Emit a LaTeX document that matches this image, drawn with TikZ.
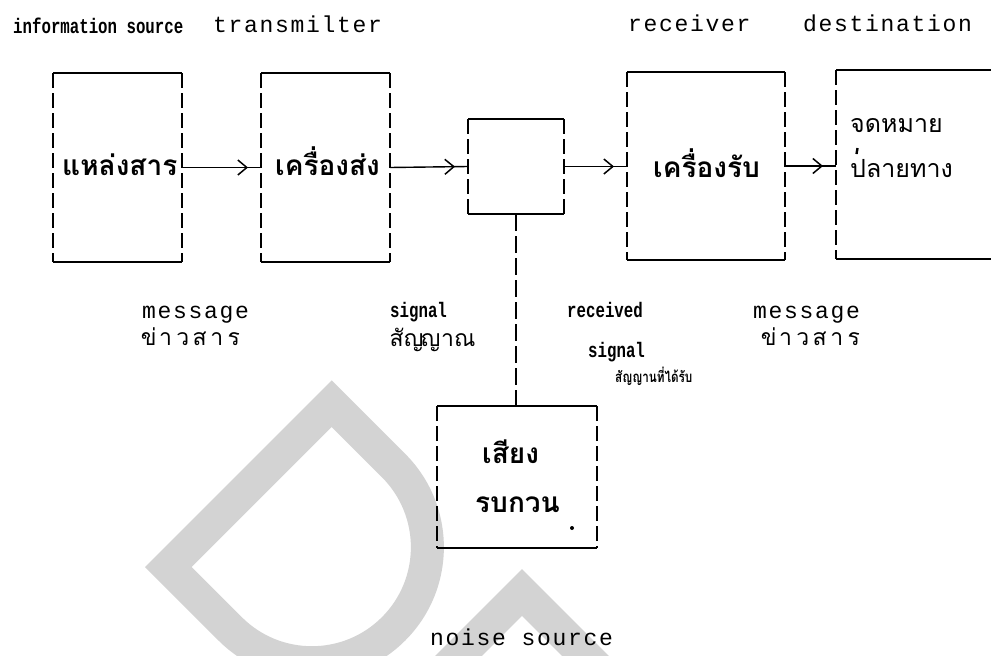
\documentclass[tikz,border=0pt]{standalone}
\usepackage{fontspec}
\usetikzlibrary{arrows.meta,decorations.markings,calc}
\newfontfamily\monof[LetterSpace=7.4]{Liberation Mono}
\newfontfamily\condf[FakeStretch=0.75]{Liberation Mono}
\newfontfamily\thaif[Script=Thai]{Loma}
\newfontfamily\thaicond[Script=Thai,FakeStretch=0.78]{Loma}
\definecolor{wm}{RGB}{211,211,211}
\newcommand\hybox[1]{%
  \draw[edgeline] (#1.north west) -- (#1.north east);
  \draw[edgeline] (#1.south west) -- (#1.south east);
  \draw[dashedge] (#1.north west) -- (#1.south west);
  \draw[dashedge] (#1.north east) -- (#1.south east);}
\newcommand\tcell[1]{\makebox[17pt]{#1}}
\begin{document}
\begin{tikzpicture}[x=1pt,y=1pt,
  edgeline/.style={line width=1.4pt},
  dashedge/.style={line width=1.4pt,dash pattern=on 15pt off 5pt},
  boxn/.style={inner sep=0pt,outer sep=0pt},
  conn/.style={line width=1.4pt,postaction={decorate},
    decoration={markings,mark=at position -13pt with {\arrow{Straight Barb[length=9pt,width=15pt,line width=1.5pt]}}}},
  vconn/.style={line width=1.4pt,dash pattern=on 17pt off 5pt},
  monotxt/.style={anchor=base west,inner sep=0pt,font=\fontsize{23}{26}\monof},
  condtxt/.style={anchor=base west,inner sep=0pt,font=\fontsize{21}{24}\condf\bfseries},
  thbox/.style={anchor=base west,inner sep=0pt,font=\fontsize{28}{30}\thaif\bfseries},
  thdest/.style={anchor=base west,inner sep=0pt,font=\fontsize{25}{27}\thaif},
  thlab/.style={anchor=base west,inner sep=0pt,font=\fontsize{23}{25}\thaif},
  thtiny/.style={anchor=base west,inner sep=0pt,font=\fontsize{15}{16}\thaicond\bfseries}
]
\useasboundingbox (0,0) rectangle (991,-656);
\clip (0,0) rectangle (991,-656);
% watermark
\begin{scope}[shift={(145,-567)},rotate=-45]
\fill[wm,even odd rule] (0,0) -- (104,0) arc[start angle=-90,end angle=90,radius=132pt] -- (0,264) -- cycle
  (33,33) -- (104,33) arc[start angle=-90,end angle=90,radius=99pt] -- (33,231) -- cycle;
\end{scope}
\draw[wm,line width=33pt,line join=miter] (402,-712.5) -- (522,-592.5) -- (642,-712.5);
% boxes
\node[boxn,minimum width=129pt,minimum height=189pt] (b1) at (117.5,-167.5) {};
\node[boxn,minimum width=129pt,minimum height=189pt] (b2) at (325.5,-167.5) {};
\node[boxn,minimum width=96pt,minimum height=95pt] (ch) at (516,-166.5) {};
\node[boxn,minimum width=158pt,minimum height=188pt] (b4) at (706,-166) {};
\node[boxn,minimum width=174pt,minimum height=189pt] (b5) at (923,-164.5) {};
\node[boxn,minimum width=160pt,minimum height=142pt] (ns) at (517,-477) {};
\hybox{b1}\hybox{b2}\hybox{ch}\hybox{b4}\hybox{b5}\hybox{ns}
% connectors
\draw[conn] (b1.east) -- (b2.west);
\draw[conn] (b2.east) -- (ch.west);
\draw[conn] (ch.east) -- (ch.east -| b4.west);
\draw[conn] (b4.east) -- (b4.east -| b5.west);
\draw[vconn] (ch.south) -- (ch.south |- ns.north);
% top labels
\node[condtxt] (lis) at (13,-33) {information source};
\node[monotxt] (ltr) at (213,-32) {transmilter};
\node[monotxt] (lre) at (628,-31) {receiver};
\node[monotxt] (lde) at (803,-31) {destination};
% box texts
\node[thbox] (t1) at (62,-175) {แหล่งสาร};
\node[thbox] (t2) at (275,-175) {เครื่องส่ง};
\node[thbox] (t4) at (653,-177) {เครื่องรับ};
\node[thdest] (t5a) at (850,-132) {จดหมาย};
\node[thdest] (t5b) at (850,-177) {ปลายทาง};
\draw[line width=2.4pt] (857.5,-148) -- (856.5,-154);
\node[thbox] (n1) at (482,-463) {เสียง};
\node[thbox] (n2) at (475,-512) {รบกวน};
\fill (572,-528) circle (2pt);
% lower labels
\node[monotxt] (mL) at (142,-318) {message};
\node[thlab] (kL) at (140,-345) {\tcell{ข่}\tcell{า}\tcell{ว}\tcell{ส}\tcell{า}\tcell{ร}};
\node[condtxt] (sL) at (390,-317) {signal};
\node[thlab] (sgL) at (388,-346) {\tcell{สั}\tcell{ญ}\tcell{ญ}\tcell{า}\tcell{ณ}};
\node[condtxt] (rc) at (567,-317) {received};
\node[condtxt] (sR) at (588,-357) {signal};
\node[thtiny] (sgR) at (615,-382) {สัญญานที่ได้รับ};
\node[monotxt] (mR) at (753,-318) {message};
\node[thlab] (kR) at (760,-345) {\tcell{ข่}\tcell{า}\tcell{ว}\tcell{ส}\tcell{า}\tcell{ร}};
\node[monotxt] (nsrc) at (430,-645) {noise source};
\end{tikzpicture}
\end{document}
